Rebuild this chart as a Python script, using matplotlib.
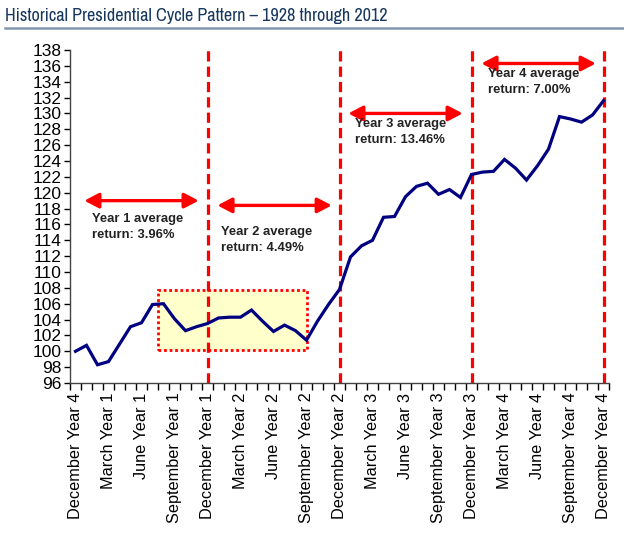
import matplotlib
matplotlib.use("Agg")
import matplotlib.pyplot as plt
from matplotlib import font_manager
from matplotlib.patches import Rectangle, FancyArrowPatch

# ---- data ----
values = [100.0, 100.75, 98.3, 98.7, 100.9, 103.1, 103.6, 105.9, 106.0, 104.1,
          102.6, 103.1, 103.5, 104.2, 104.3, 104.3, 105.2, 103.8, 102.5, 103.3,
          102.6, 101.4, 103.8, 105.9, 107.8, 111.9, 113.3, 114.0, 116.9, 117.0,
          119.5, 120.8, 121.2, 119.8, 120.4, 119.4, 122.3, 122.6, 122.7, 124.2,
          123.1, 121.6, 123.4, 125.5, 129.6, 129.3, 128.9, 129.8, 131.6]
tick_labels = ["December Year 4", "March Year 1", "June Year 1", "September Year 1",
               "December Year 1", "March Year 2", "June Year 2", "September Year 2",
               "December Year 2", "March Year 3", "June Year 3", "September Year 3",
               "December Year 3", "March Year 4", "June Year 4", "September Year 4",
               "December Year 4"]
year_ends = [12, 24, 36, 48]
annotations = ["Year 1 average\nreturn: 3.96%", "Year 2 average\nreturn: 4.49%",
               "Year 3 average\nreturn: 13.46%", "Year 4 average\nreturn: 7.00%"]
title = "Historical Presidential Cycle Pattern \u2013 1928 through 2012"

# ---- fonts ----
names = {f.name for f in font_manager.fontManager.ttflist}
body_font = "Liberation Sans" if "Liberation Sans" in names else "DejaVu Sans"
title_font = "Archivo Narrow" if "Archivo Narrow" in names else body_font
plt.rcParams["font.family"] = [body_font, "DejaVu Sans"]

fig = plt.figure(figsize=(6.24, 5.36), dpi=100)
ax = fig.add_axes([70/624, 1-383/536, (609-70)/624, (383-50)/536])

x = list(range(len(values)))

ax.add_patch(Rectangle((7.5, 100.2), 13.55, 7.5, facecolor="#FFFFCC",
                       edgecolor="#FF0000", linestyle=(0, (1, 1)), linewidth=2.0, zorder=1))

for xe in year_ends:
    ax.axvline(xe, color="#FF0000", linestyle=(0, (3.2, 1.6)), linewidth=2.3, zorder=2)

ax.plot(x, values, color="#000080", linewidth=2.3, zorder=4, solid_joinstyle="miter")

arrow_spans = [(0.8, 11.2, 119.0), (12.9, 23.3, 118.4), (24.8, 35.2, 130.0), (36.9, 47.3, 136.3)]
for x0, x1, yv in arrow_spans:
    ax.add_patch(FancyArrowPatch((x0, yv), (x1, yv), arrowstyle="<|-|>,head_length=8.6,head_width=4.5",
                                 mutation_scale=1, shrinkA=0, shrinkB=0,
                                 color="#FF0000", linewidth=2.4, zorder=3))

text_pos = [(1.5, 117.4), (13.2, 115.8), (25.45, 129.4), (37.5, 135.7)]
for (tx, ty), t in zip(text_pos, annotations):
    ax.text(tx, ty, t, fontsize=9.4, fontweight="bold", color="#222222", va="top",
            ha="left", linespacing=1.45, zorder=5)

ax.set_xlim(-0.5, 48.5)
ax.set_ylim(96, 138)
ax.set_yticks(range(96, 139, 2))
ax.tick_params(axis="y", labelsize=12.5, length=4, width=1, direction="out", pad=2)
ax.set_xticks(range(0, 49, 3))
ax.set_xticklabels(tick_labels, rotation=90, fontsize=11.7)
ax.set_xticks([i - 0.5 for i in range(50)], minor=True)
ax.tick_params(axis="x", which="major", length=0, pad=7)
ax.tick_params(axis="x", which="minor", length=5, width=1, direction="out")
for s in ["top", "right"]:
    ax.spines[s].set_visible(False)
for s in ["left", "bottom"]:
    ax.spines[s].set_color("#444444")
    ax.spines[s].set_linewidth(1)

fig.text(5/624, 1-16/536, title, fontsize=13.1, color="#17375E", family=[title_font, "DejaVu Sans"],
         va="center", ha="left")
fig.add_artist(plt.Line2D([5/624, 1.0], [1-28/536, 1-28/536], transform=fig.transFigure,
                          color="#8497B0", linewidth=1.8))

fig.savefig("out.png", dpi=100, facecolor="white")
